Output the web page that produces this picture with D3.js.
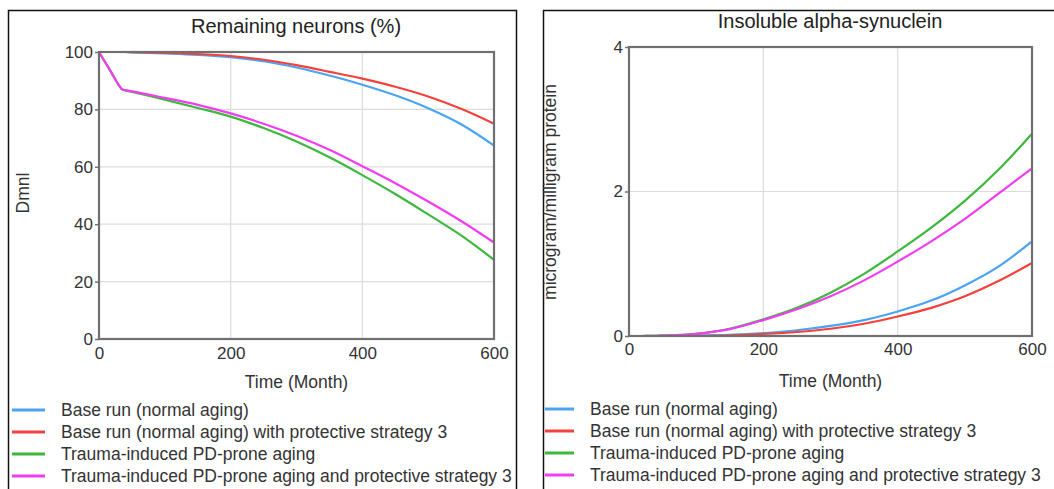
<!DOCTYPE html>
<html><head><meta charset="utf-8">
<script src="https://cdn.jsdelivr.net/npm/d3@7"></script>
<style>
body{margin:0;background:#fff;}
svg{display:block;font-family:"Liberation Sans",Arial,sans-serif;}
</style></head>
<body><svg id="c" width="1054" height="489"></svg>
<script>
const months = [0,10,20,30,35,40,50,100,150,200,250,300,350,400,450,500,550,600];
const seriesNames = [
  "Base run (normal aging)",
  "Base run (normal aging) with protective strategy 3",
  "Trauma-induced PD-prone aging",
  "Trauma-induced PD-prone aging and protective strategy 3"
];
const seriesColors = ["#4aa3f5","#f5413c","#3cb83c","#f23cf2"];

// Remaining neurons (%)
const neuronsBase      = [100,100,100,100,100,100,99.9,99.5,99.0,98.2,96.8,94.6,91.8,88.6,84.9,80.4,74.8,67.4];
const neuronsBaseP3    = [100,100,100,100,100,100,99.95,99.7,99.3,98.6,97.3,95.4,93.1,90.7,87.9,84.5,80.2,75.0];
const neuronsTrauma    = [100,96.2,92.4,88.5,87.0,86.6,86.1,83.4,80.5,77.5,73.5,68.8,63.3,57.1,50.5,43.4,36.1,27.6];
const neuronsTraumaP3  = [100,96.2,92.4,88.5,87.0,86.7,86.3,84.0,81.6,78.6,75.0,70.8,65.9,60.2,54.3,47.9,41.1,33.6];

// Insoluble alpha-synuclein
const synBase     = [0,0,0,0,0,0,0.001,0.005,0.015,0.04,0.08,0.14,0.22,0.34,0.49,0.70,0.96,1.31];
const synBaseP3   = [0,0,0,0,0,0,0.001,0.003,0.01,0.028,0.055,0.10,0.17,0.27,0.39,0.55,0.76,1.01];
const synTrauma   = [0,0,0,0.001,0.001,0.002,0.005,0.03,0.10,0.23,0.39,0.60,0.86,1.17,1.50,1.87,2.30,2.80];
const synTraumaP3 = [0,0,0,0.001,0.001,0.002,0.005,0.03,0.095,0.22,0.37,0.55,0.77,1.03,1.31,1.62,1.97,2.32];

const xTicks = [0,200,400,600];
const neuronTicks = [0,20,40,60,80,100];
const synTicks = [0,2,4];

const svg = d3.select("#c");
const FONT = "Liberation Sans, Arial, sans-serif";

function panel(cfg){
  const g = svg.append("g");
  g.append("rect").attr("x",cfg.box[0]+0.5).attr("y",cfg.box[1]+0.5)
   .attr("width",cfg.box[2]).attr("height",cfg.box[3])
   .attr("fill","none").attr("stroke","#111").attr("stroke-width",1.5);
  const x = d3.scaleLinear().domain([0,600]).range([cfg.pl,cfg.pr]);
  const y = d3.scaleLinear().domain(cfg.ydom).range([cfg.pb,cfg.pt]);
  g.append("g").selectAll("line").data(xTicks.slice(1,-1)).join("line")
   .attr("x1",d=>x(d)).attr("x2",d=>x(d)).attr("y1",cfg.pt).attr("y2",cfg.pb)
   .attr("stroke","#dcdcdc").attr("stroke-width",1.2);
  g.append("g").selectAll("line").data(cfg.yticks.slice(1,-1)).join("line")
   .attr("y1",d=>y(d)).attr("y2",d=>y(d)).attr("x1",cfg.pl).attr("x2",cfg.pr)
   .attr("stroke","#dcdcdc").attr("stroke-width",1.2);
  const line = d3.line().x((d,i)=>x(months[i])).y(d=>y(d)).curve(d3.curveMonotoneX);
  cfg.series.forEach((s,i)=>{
    g.append("path").attr("d",line(s)).attr("fill","none")
     .attr("stroke",seriesColors[i]).attr("stroke-width",2.2);
  });
  g.append("rect").attr("x",cfg.pl).attr("y",cfg.pt).attr("width",cfg.pr-cfg.pl).attr("height",cfg.pb-cfg.pt)
   .attr("fill","none").attr("stroke","#707070").attr("stroke-width",2.2);
  const yAxis = d3.axisLeft(y).tickValues(cfg.yticks).tickSize(4).tickPadding(2).tickFormat(d3.format("d"));
  const ya = g.append("g").attr("transform",`translate(${cfg.pl},0)`).call(yAxis);
  ya.select(".domain").remove();
  ya.selectAll("line").attr("stroke","#707070").attr("stroke-width",1.5);
  ya.selectAll("text").attr("font-size",17).attr("fill","#333").attr("font-family",FONT);
  const xAxis = d3.axisBottom(x).tickValues(xTicks).tickSize(0).tickPadding(cfg.xpad).tickFormat(d3.format("d"));
  const xa = g.append("g").attr("transform",`translate(0,${cfg.pb})`).call(xAxis);
  xa.select(".domain").remove();
  xa.selectAll("text").attr("font-size",17).attr("fill","#333").attr("font-family",FONT);
  g.append("text").attr("x",cfg.tx).attr("y",cfg.ty).attr("text-anchor","middle")
   .attr("font-size",20).attr("fill","#222").text(cfg.title);
  g.append("text").attr("x",(cfg.pl+cfg.pr)/2).attr("y",cfg.xly).attr("text-anchor","middle")
   .attr("font-size",17.5).attr("fill","#333").text("Time (Month)");
  g.append("text").attr("transform",`translate(${cfg.ylx},${cfg.yly}) rotate(-90)`).attr("text-anchor","middle")
   .attr("font-size",17.5).attr("fill","#333").text(cfg.ylabel);
  const lg = g.append("g");
  seriesNames.forEach((n,i)=>{
    const yy = cfg.legY + i*22;
    lg.append("line").attr("x1",cfg.legX).attr("x2",cfg.legX+cfg.legW).attr("y1",yy).attr("y2",yy)
      .attr("stroke",seriesColors[i]).attr("stroke-width",3);
    lg.append("text").attr("x",cfg.legT).attr("y",yy).attr("dy","0.35em")
      .attr("font-size",17.5).attr("fill","#333").text(n);
  });
}

panel({box:[8,10,508,500], pl:99, pr:494, pt:52, pb:339, ydom:[0,100], yticks:neuronTicks, xpad:8,
  series:[neuronsBase,neuronsBaseP3,neuronsTrauma,neuronsTraumaP3],
  title:"Remaining neurons (%)", tx:296, ty:33, xly:388, ylabel:"Dmnl", ylx:29, yly:193,
  legX:12, legW:33, legT:61, legY:410});
panel({box:[543,10,520,500], pl:629, pr:1032, pt:47, pb:336, ydom:[0,4], yticks:synTicks, xpad:7,
  series:[synBase,synBaseP3,synTrauma,synTraumaP3],
  title:"Insoluble alpha-synuclein", tx:830, ty:28, xly:387, ylabel:"microgram/milligram protein", ylx:556, yly:192,
  legX:545, legW:29, legT:590, legY:409});
</script></body></html>
